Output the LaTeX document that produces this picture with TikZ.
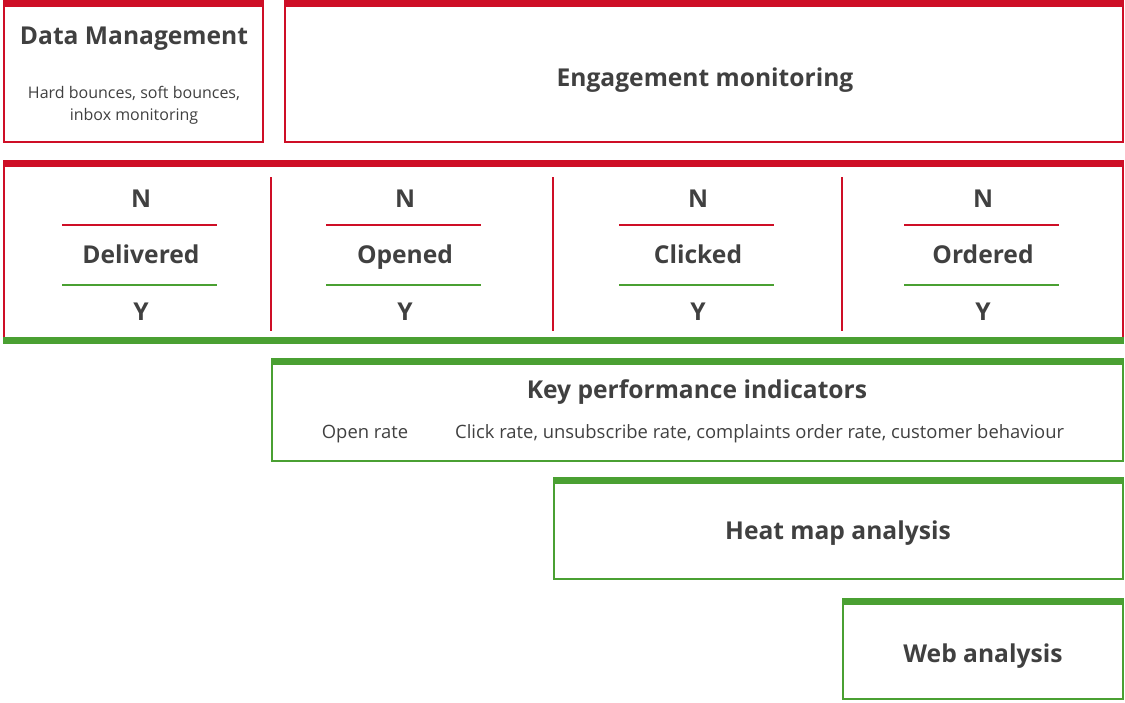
\documentclass[tikz,border=0pt]{standalone}
\usepackage{fontspec}
\setmainfont{Open Sans}
\definecolor{cred}{RGB}{206,14,38}
\definecolor{cgreen}{RGB}{74,160,50}
\definecolor{ctext}{RGB}{64,64,64}
\begin{document}
\begin{tikzpicture}[x=1pt,y=-1pt,
  frame/.style={line width=2pt},
  bar/.style={line width=7pt},
  title/.style={text=ctext,font=\fontsize{24.6}{28}\selectfont\bfseries,inner sep=0pt,anchor=base},
  small/.style={text=ctext,font=\fontsize{18.4}{22}\selectfont,inner sep=0pt,anchor=base},
  note/.style={small,font=\fontsize{16}{22}\selectfont},
  rule/.style={line width=2.5pt}]
\useasboundingbox (0,0) rectangle (1125,702);
% Data management
\draw[frame,cred] (4,4) rectangle (263,142);
\draw[bar,cred] (3,3.5) -- (264,3.5);
\node[title] (dm) at (134,44) {Data Management};
\node[note] (dmt1) at (134,98) {Hard bounces, soft bounces,};
\node[note] (dmt2) at (134,120) {inbox monitoring};
% Engagement
\draw[frame,cred] (285,4) rectangle (1123,142);
\draw[bar,cred] (284,3.5) -- (1124,3.5);
\node[title] (em) at (705,86) {Engagement monitoring};
% stages row
\draw[frame,cred] (4,163) -- (4,340) (1123,163) -- (1123,340);
\draw[bar,cred] (3,163.5) -- (1124,163.5);
\draw[bar,cgreen] (3,340) -- (1124,340);
\foreach \x in {271,553,842}{\draw[line width=2pt,cred] (\x,177) -- (\x,331);}
\foreach \cx/\lab/\nm in {141/Delivered/a,405/Opened/b,698/Clicked/c,983/Ordered/d}{
  \node[title] (n\nm) at (\cx,207) {N};
  \node[title] (l\nm) at (\cx,263) {\lab};
  \node[title] (y\nm) at (\cx,320) {Y};
  \draw[rule,cred] (\cx-79,225) -- (\cx+76,225);
  \draw[rule,cgreen] (\cx-79,285) -- (\cx+76,285);
}
% KPI
\draw[frame,cgreen] (272,362) rectangle (1123,461);
\draw[bar,cgreen] (271,361.5) -- (1124,361.5);
\node[title] (kpi) at (697,398) {Key performance indicators};
\node[small] (or) at (365,438) {Open rate};
\node[small,anchor=base west] (cr) at (455,438) {Click rate, unsubscribe rate, complaints order rate, customer behaviour};
% Heat map
\draw[frame,cgreen] (554,481) rectangle (1123,579);
\draw[bar,cgreen] (553,480.5) -- (1124,480.5);
\node[title] (hm) at (838,539) {Heat map analysis};
% Web analysis
\draw[frame,cgreen] (843,602) rectangle (1123,699);
\draw[bar,cgreen] (842,601.5) -- (1124,601.5);
\node[title] (wa) at (983,662) {Web analysis};
\end{tikzpicture}
\end{document}
